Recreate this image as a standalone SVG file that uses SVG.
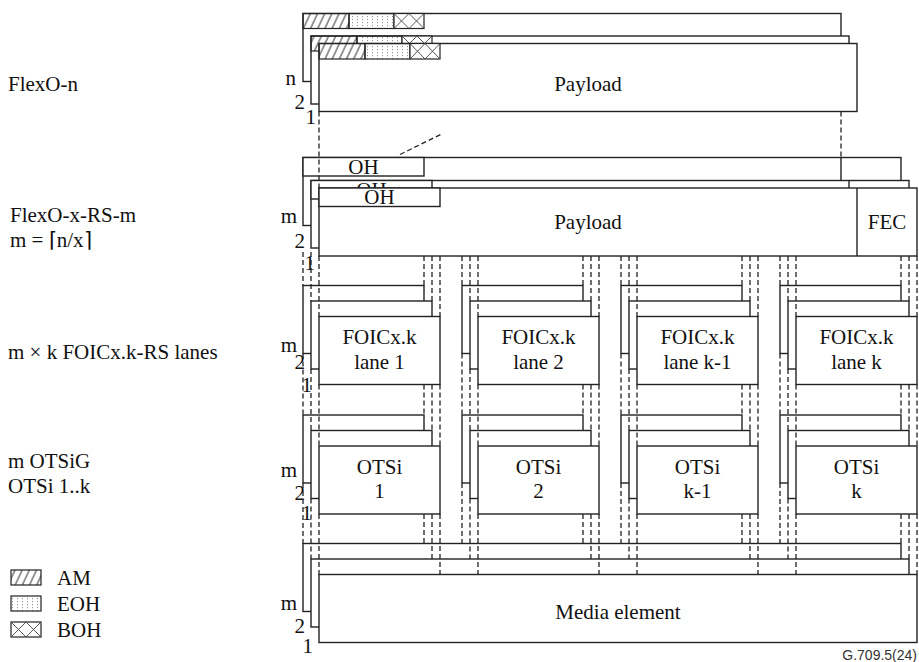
<svg xmlns="http://www.w3.org/2000/svg" width="919" height="662" viewBox="0 0 919 662">
<defs>
<pattern id="am" width="6.5" height="10" patternUnits="userSpaceOnUse" patternTransform="rotate(25)">
<line x1="1" y1="0" x2="1" y2="10" stroke="#333" stroke-width="1"/>
</pattern>
<pattern id="eoh" width="5" height="3" patternUnits="userSpaceOnUse">
<rect x="2" y="1" width="0.9" height="1.2" fill="#888"/>
</pattern>
<clipPath id="oh2clip"><rect x="311" y="180.5" width="121" height="7.5"/></clipPath>
</defs>
<style>
.f{fill:#fff;stroke:#222;stroke-width:1.4}
.o{stroke:#222;stroke-width:1.2}
.x{fill:none;stroke:#444;stroke-width:0.9}
.dv{fill:none;stroke:#222;stroke-width:1.4}
.d{fill:none;stroke:#222;stroke-width:1.3;stroke-dasharray:5 3}
.t{font-family:"Liberation Serif","Times New Roman",serif;font-size:21px;fill:#111}
.c{text-anchor:middle}
.e{text-anchor:end}
.s{font-family:"Liberation Sans",Arial,sans-serif;font-size:14px;fill:#333;text-anchor:end}
</style>
<rect width="919" height="662" fill="#fff"/>

<!-- Left labels -->
<g id="labels">
<text class="t" x="8" y="91">FlexO-n</text>
<text class="t" x="10" y="222">FlexO-x-RS-m</text>
<text class="t" x="10" y="247">m = ⌈n/x⌉</text>
<text class="t" x="8" y="359">m × k FOICx.k-RS lanes</text>
<text class="t" x="8" y="468">m OTSiG</text>
<text class="t" x="8" y="493">OTSi 1..k</text>
</g>

<!-- Legend -->
<g id="legend">
<rect x="11" y="570" width="30" height="15" fill="url(#am)"/>
<rect x="11" y="570" width="30" height="15" fill="none" stroke="#222" stroke-width="1.2"/>
<text class="t" x="57" y="585">AM</text>
<rect x="11" y="596" width="30" height="15" fill="url(#eoh)"/>
<rect x="11" y="596" width="30" height="15" fill="none" stroke="#222" stroke-width="1.2"/>
<text class="t" x="57" y="611">EOH</text>
<rect x="11" y="622" width="30" height="15" fill="#fff" stroke="#222" stroke-width="1.2"/>
<path class="x" d="M11,622L26,637M11,637L26,622M26,622L41,637M26,637L41,622"/>
<text class="t" x="57" y="637">BOH</text>
</g>

<!-- FlexO-n -->
<g id="flexo-n">
<rect class="f" x="303" y="13.5" width="538" height="68"/>
<rect x="303" y="13.5" width="46" height="15" fill="url(#am)" class="o"/>
<rect x="349" y="13.5" width="45" height="15" fill="url(#eoh)" class="o"/>
<rect x="394" y="13.5" width="30" height="15" fill="#fff" class="o"/>
<path class="x" d="M394,13.5l15,15M394,28.5l15,-15M409,13.5l15,15M409,28.5l15,-15"/>
<rect class="f" x="311" y="36" width="538" height="68"/>
<rect x="311" y="36" width="46" height="15" fill="url(#am)" class="o"/>
<rect x="357" y="36" width="45" height="15" fill="url(#eoh)" class="o"/>
<rect x="402" y="36" width="30" height="15" fill="#fff" class="o"/>
<path class="x" d="M402,36l15,15M402,51l15,-15M417,36l15,15M417,51l15,-15"/>
<rect class="f" x="319" y="43.5" width="538" height="68"/>
<rect x="319" y="43.5" width="46" height="15.5" fill="url(#am)" class="o"/>
<rect x="365" y="43.5" width="45" height="15.5" fill="url(#eoh)" class="o"/>
<rect x="410" y="43.5" width="30" height="15.5" fill="#fff" class="o"/>
<path class="x" d="M410,43.5l15,15.5M410,59l15,-15.5M425,43.5l15,15.5M425,59l15,-15.5"/>
<text class="t c" x="588" y="91">Payload</text>
<text class="t e" x="296" y="85">n</text>
<text class="t e" x="305" y="109">2</text>
<text class="t e" x="316" y="124">1</text>
</g>

<!-- FlexO-x-RS-m -->
<g id="flexo-x-rs-m">
<rect class="f" x="303" y="157.5" width="598" height="68"/>
<rect class="f" x="303" y="157.5" width="121" height="18.5"/>
<text class="t c" x="363.5" y="173.5">OH</text>
<line class="dv" x1="841" y1="157.5" x2="841" y2="225.5"/>
<rect class="f" x="311" y="180.5" width="598" height="67.5"/>
<rect class="f" x="311" y="180.5" width="121" height="18.5"/>
<text class="t c" x="371.5" y="196.5" clip-path="url(#oh2clip)">OH</text>
<line class="dv" x1="849" y1="180.5" x2="849" y2="248"/>
<rect class="f" x="319" y="188" width="598" height="68"/>
<rect class="f" x="319" y="188" width="121" height="18.5"/>
<text class="t c" x="379.5" y="204">OH</text>
<line class="dv" x1="857" y1="188" x2="857" y2="256"/>
<text class="t c" x="588" y="229">Payload</text>
<text class="t c" x="887" y="229">FEC</text>
<text class="t e" x="297" y="223">m</text>
<text class="t e" x="305" y="248">2</text>
<text class="t e" x="315" y="270">1</text>
</g>

<!-- FOIC lanes -->
<g id="foic-lane-1">
<rect class="f" x="303" y="285.5" width="121" height="68"/>
<rect class="f" x="311" y="301" width="121" height="68"/>
<rect class="f" x="319" y="316.5" width="121" height="68"/>
<text class="t c" x="379.5" y="344">FOICx.k</text>
<text class="t c" x="379.5" y="369">lane 1</text>
<text class="t e" x="297" y="352">m</text>
<text class="t e" x="305" y="369">2</text>
<text class="t e" x="312" y="392">1</text>
</g>
<g id="foic-lane-2">
<rect class="f" x="462" y="285.5" width="121" height="68"/>
<rect class="f" x="470" y="301" width="121" height="68"/>
<rect class="f" x="478" y="316.5" width="121" height="68"/>
<text class="t c" x="538.5" y="344">FOICx.k</text>
<text class="t c" x="538.5" y="369">lane 2</text>
</g>
<g id="foic-lane-k-1">
<rect class="f" x="621" y="285.5" width="121" height="68"/>
<rect class="f" x="629" y="301" width="121" height="68"/>
<rect class="f" x="637" y="316.5" width="121" height="68"/>
<text class="t c" x="697.5" y="344">FOICx.k</text>
<text class="t c" x="697.5" y="369">lane k-1</text>
</g>
<g id="foic-lane-k">
<rect class="f" x="780" y="285.5" width="121" height="68"/>
<rect class="f" x="788" y="301" width="121" height="68"/>
<rect class="f" x="796" y="316.5" width="121" height="68"/>
<text class="t c" x="856.5" y="344">FOICx.k</text>
<text class="t c" x="856.5" y="369">lane k</text>
</g>

<!-- OTSi -->
<g id="otsi-1">
<rect class="f" x="303" y="415" width="121" height="68"/>
<rect class="f" x="311" y="430.5" width="121" height="68"/>
<rect class="f" x="319" y="446" width="121" height="68"/>
<text class="t c" x="379.5" y="474">OTSi</text>
<text class="t c" x="379.5" y="497.5">1</text>
<text class="t e" x="297" y="477">m</text>
<text class="t e" x="305" y="500">2</text>
<text class="t e" x="312" y="520">1</text>
</g>
<g id="otsi-2">
<rect class="f" x="462" y="415" width="121" height="68"/>
<rect class="f" x="470" y="430.5" width="121" height="68"/>
<rect class="f" x="478" y="446" width="121" height="68"/>
<text class="t c" x="538.5" y="474">OTSi</text>
<text class="t c" x="538.5" y="497.5">2</text>
</g>
<g id="otsi-k-1">
<rect class="f" x="621" y="415" width="121" height="68"/>
<rect class="f" x="629" y="430.5" width="121" height="68"/>
<rect class="f" x="637" y="446" width="121" height="68"/>
<text class="t c" x="697.5" y="474">OTSi</text>
<text class="t c" x="697.5" y="497.5">k-1</text>
</g>
<g id="otsi-k">
<rect class="f" x="780" y="415" width="121" height="68"/>
<rect class="f" x="788" y="430.5" width="121" height="68"/>
<rect class="f" x="796" y="446" width="121" height="68"/>
<text class="t c" x="856.5" y="474">OTSi</text>
<text class="t c" x="856.5" y="497.5">k</text>
</g>

<!-- Media element -->
<g id="media">
<rect class="f" x="303" y="543.5" width="598" height="68"/>
<rect class="f" x="311" y="559" width="598" height="68"/>
<rect class="f" x="319" y="574.5" width="598" height="68"/>
<text class="t c" x="618" y="619">Media element</text>
<text class="t e" x="297" y="610">m</text>
<text class="t e" x="305" y="633">2</text>
<text class="t e" x="313" y="653">1</text>
</g>

<!-- Connectors -->
<g id="connectors">
<line class="d" x1="319" y1="111.5" x2="319" y2="188"/>
<line class="d" x1="841" y1="111.5" x2="841" y2="157.5"/>
<line class="d" x1="400" y1="154.5" x2="441" y2="134.3"/>
<line class="d" x1="303" y1="252" x2="303" y2="285.5"/><line class="d" x1="311" y1="252" x2="311" y2="301"/><line class="d" x1="319" y1="256" x2="319" y2="316.5"/>
<line class="d" x1="424" y1="256" x2="424" y2="285.5"/><line class="d" x1="432" y1="256" x2="432" y2="301"/><line class="d" x1="440" y1="256" x2="440" y2="316.5"/>
<line class="d" x1="462" y1="256" x2="462" y2="285.5"/><line class="d" x1="470" y1="256" x2="470" y2="301"/><line class="d" x1="478" y1="256" x2="478" y2="316.5"/>
<line class="d" x1="583" y1="256" x2="583" y2="285.5"/><line class="d" x1="591" y1="256" x2="591" y2="301"/><line class="d" x1="599" y1="256" x2="599" y2="316.5"/>
<line class="d" x1="621" y1="256" x2="621" y2="285.5"/><line class="d" x1="629" y1="256" x2="629" y2="301"/><line class="d" x1="637" y1="256" x2="637" y2="316.5"/>
<line class="d" x1="742" y1="256" x2="742" y2="285.5"/><line class="d" x1="750" y1="256" x2="750" y2="301"/><line class="d" x1="758" y1="256" x2="758" y2="316.5"/>
<line class="d" x1="780" y1="256" x2="780" y2="285.5"/><line class="d" x1="788" y1="256" x2="788" y2="301"/><line class="d" x1="796" y1="256" x2="796" y2="316.5"/>
<line class="d" x1="901" y1="256" x2="901" y2="285.5"/><line class="d" x1="909" y1="256" x2="909" y2="301"/><line class="d" x1="917" y1="256" x2="917" y2="316.5"/>
<line class="d" x1="303" y1="353.5" x2="303" y2="415"/><line class="d" x1="311" y1="369" x2="311" y2="430.5"/><line class="d" x1="319" y1="384.5" x2="319" y2="446"/>
<line class="d" x1="424" y1="384.5" x2="424" y2="415"/><line class="d" x1="432" y1="384.5" x2="432" y2="430.5"/><line class="d" x1="440" y1="384.5" x2="440" y2="446"/>
<line class="d" x1="462" y1="353.5" x2="462" y2="415"/><line class="d" x1="470" y1="369" x2="470" y2="430.5"/><line class="d" x1="478" y1="384.5" x2="478" y2="446"/>
<line class="d" x1="583" y1="384.5" x2="583" y2="415"/><line class="d" x1="591" y1="384.5" x2="591" y2="430.5"/><line class="d" x1="599" y1="384.5" x2="599" y2="446"/>
<line class="d" x1="621" y1="353.5" x2="621" y2="415"/><line class="d" x1="629" y1="369" x2="629" y2="430.5"/><line class="d" x1="637" y1="384.5" x2="637" y2="446"/>
<line class="d" x1="742" y1="384.5" x2="742" y2="415"/><line class="d" x1="750" y1="384.5" x2="750" y2="430.5"/><line class="d" x1="758" y1="384.5" x2="758" y2="446"/>
<line class="d" x1="780" y1="353.5" x2="780" y2="415"/><line class="d" x1="788" y1="369" x2="788" y2="430.5"/><line class="d" x1="796" y1="384.5" x2="796" y2="446"/>
<line class="d" x1="901" y1="384.5" x2="901" y2="415"/><line class="d" x1="909" y1="384.5" x2="909" y2="430.5"/><line class="d" x1="917" y1="384.5" x2="917" y2="446"/>
<line class="d" x1="303" y1="483" x2="303" y2="543.5"/><line class="d" x1="311" y1="498.5" x2="311" y2="559"/><line class="d" x1="319" y1="514" x2="319" y2="574.5"/>
<line class="d" x1="424" y1="514" x2="424" y2="543.5"/><line class="d" x1="432" y1="514" x2="432" y2="559"/><line class="d" x1="440" y1="514" x2="440" y2="574.5"/>
<line class="d" x1="462" y1="483" x2="462" y2="543.5"/><line class="d" x1="470" y1="498.5" x2="470" y2="559"/><line class="d" x1="478" y1="514" x2="478" y2="574.5"/>
<line class="d" x1="583" y1="514" x2="583" y2="543.5"/><line class="d" x1="591" y1="514" x2="591" y2="559"/><line class="d" x1="599" y1="514" x2="599" y2="574.5"/>
<line class="d" x1="621" y1="483" x2="621" y2="543.5"/><line class="d" x1="629" y1="498.5" x2="629" y2="559"/><line class="d" x1="637" y1="514" x2="637" y2="574.5"/>
<line class="d" x1="742" y1="514" x2="742" y2="543.5"/><line class="d" x1="750" y1="514" x2="750" y2="559"/><line class="d" x1="758" y1="514" x2="758" y2="574.5"/>
<line class="d" x1="780" y1="483" x2="780" y2="543.5"/><line class="d" x1="788" y1="498.5" x2="788" y2="559"/><line class="d" x1="796" y1="514" x2="796" y2="574.5"/>
<line class="d" x1="901" y1="514" x2="901" y2="543.5"/><line class="d" x1="909" y1="514" x2="909" y2="559"/><line class="d" x1="917" y1="514" x2="917" y2="574.5"/>
</g>

<text class="s" x="917" y="660">G.709.5(24)</text>
</svg>
